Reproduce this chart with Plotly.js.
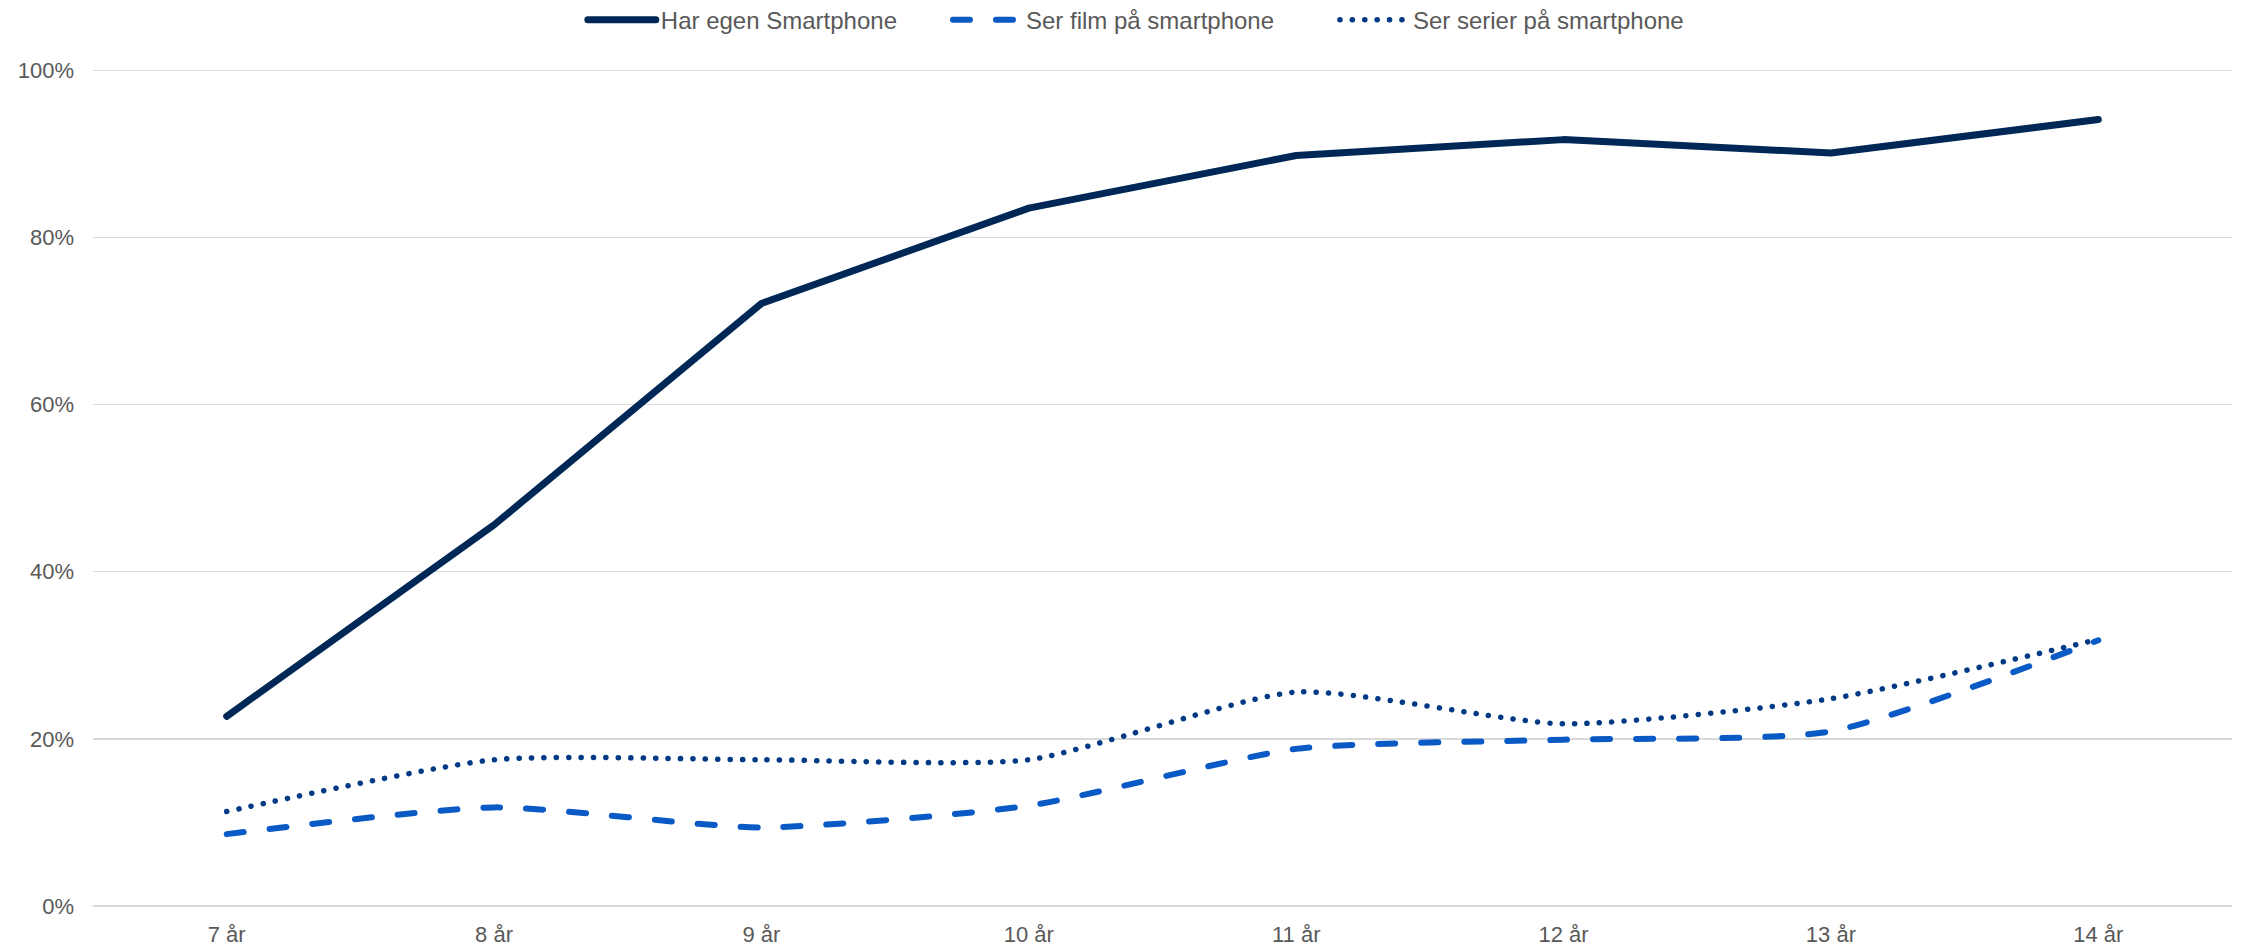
<!DOCTYPE html>
<html>
<head>
<meta charset="utf-8">
<script src="https://cdn.plot.ly/plotly-3.0.1.min.js"></script>
<style>
  html, body { margin: 0; padding: 0; background: #fff; }
  #chart { width: 2249px; height: 949px; }
  .js-line { stroke-linecap: round !important; stroke-linejoin: round !important; }
</style>
</head>
<body>
<div id="chart"></div>
<script>
const categories = ["7 år", "8 år", "9 år", "10 år", "11 år", "12 år", "13 år", "14 år"];
const harEgenSmartphone = [22.7, 45.6, 72.1, 83.5, 89.8, 91.7, 90.1, 94.1];
const serFilm = [8.6, 11.8, 9.4, 12.0, 18.8, 19.9, 20.9, 31.8];
const serSerier = [11.3, 17.5, 17.5, 17.5, 25.6, 21.8, 24.8, 31.9];
const seriesNames = ["Har egen Smartphone", "Ser film på smartphone", "Ser serier på smartphone"];
const tickValues = [0, 20, 40, 60, 80, 100];
const tickLabels = ["0%", "20%", "40%", "60%", "80%", "100%"];

const font = "Liberation Sans, Arial, sans-serif";
const textColor = "#595959";

const traces = [
  {
    x: categories, y: harEgenSmartphone, name: seriesNames[0], type: "scatter", mode: "lines",
    line: { color: "#002856", width: 7, shape: "linear" }, hoverinfo: "skip", legend: "legend"
  },
  {
    x: categories, y: serFilm, name: seriesNames[1], type: "scatter", mode: "lines",
    line: { color: "#0A5AC6", width: 6, dash: "17px,26px", shape: "spline", smoothing: 0.6 }, hoverinfo: "skip", legend: "legend2"
  },
  {
    x: categories, y: serSerier, name: seriesNames[2], type: "scatter", mode: "lines",
    line: { color: "#003A85", width: 5.5, dash: "0.1px,12.3px", shape: "spline", smoothing: 0.6 }, hoverinfo: "skip", legend: "legend3"
  }
];

function legendAt(x) {
  return {
    orientation: "h", x: x, xanchor: "left", y: 1.0585, yanchor: "middle",
    font: { family: font, size: 24, color: textColor },
    itemwidth: 68, bgcolor: "rgba(0,0,0,0)", borderwidth: 0
  };
}

const layout = {
  width: 2249, height: 949,
  margin: { l: 93, r: 17, t: 69, b: 43, pad: 0, autoexpand: false },
  paper_bgcolor: "#ffffff", plot_bgcolor: "#ffffff",
  font: { family: font, color: textColor, size: 22 },
  showlegend: true,
  legend: legendAt(0.2290),
  legend2: legendAt(0.3997),
  legend3: legendAt(0.5806),
  xaxis: {
    type: "category", range: [-0.5, 7.5], showgrid: false, zeroline: false,
    showline: false, ticks: "", tickfont: { family: font, size: 22, color: textColor },
    ticklabelstandoff: 13, fixedrange: true
  },
  yaxis: {
    range: [0, 100.15], tickmode: "array", tickvals: tickValues, ticktext: tickLabels, showgrid: true,
    gridcolor: "#d9d9d9", gridwidth: 1.5, zeroline: true, zerolinecolor: "#d9d9d9", zerolinewidth: 2,
    showline: false, ticks: "", tickfont: { family: font, size: 22, color: textColor },
    ticklabelstandoff: 18, fixedrange: true
  }
};

Plotly.newPlot("chart", traces, layout, { displayModeBar: false, staticPlot: true });
</script>
</body>
</html>
